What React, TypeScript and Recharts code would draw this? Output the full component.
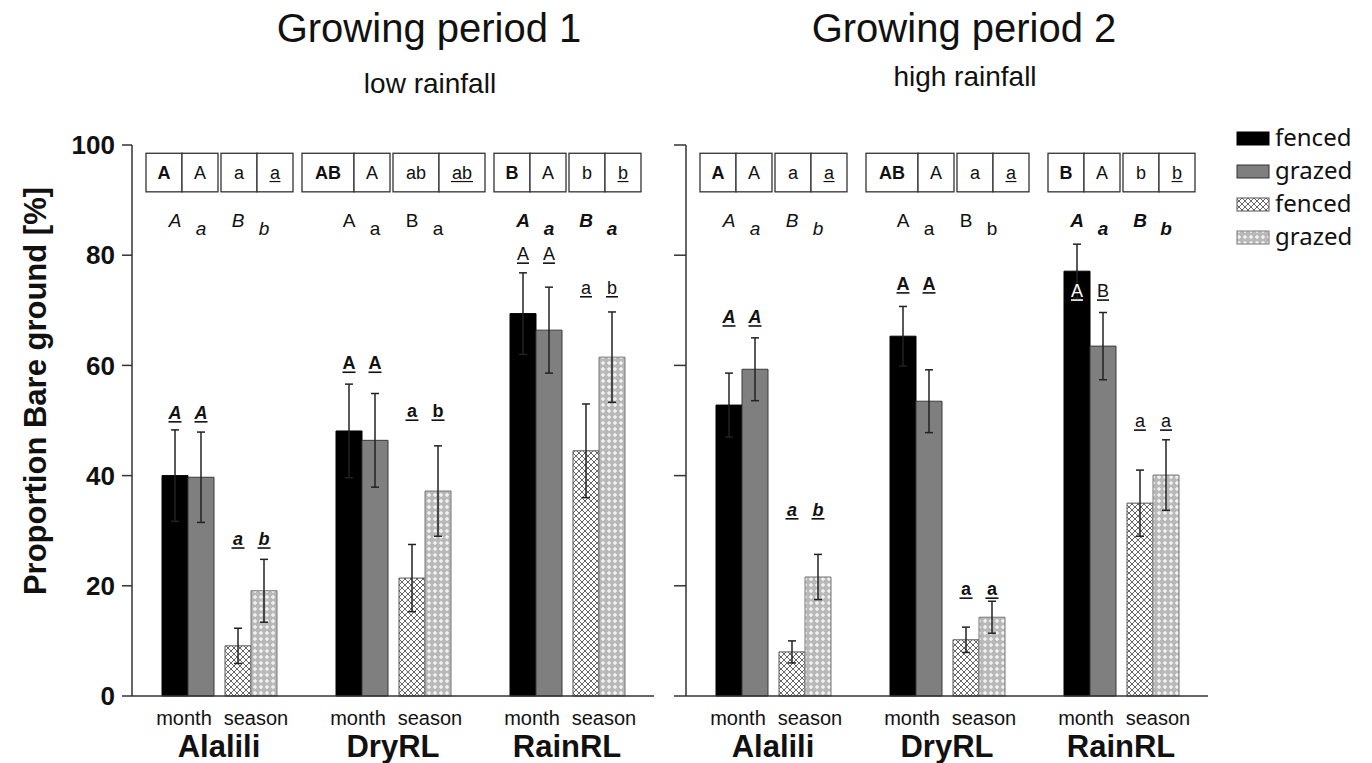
import { BarChart, Bar, XAxis, YAxis, ErrorBar, LabelList } from "recharts";

const sites = ["Alalili", "DryRL", "RainRL"];
const yTicks = [0, 20, 40, 60, 80, 100];

// Growing period 1 (low rainfall): mean % bare ground and SE
const p1MonthFenced = [40.0, 48.1, 69.4];
const p1MonthGrazed = [39.7, 46.4, 66.4];
const p1SeasonFenced = [9.1, 21.4, 44.5];
const p1SeasonGrazed = [19.1, 37.2, 61.5];
const p1MonthFencedSe = [8.3, 8.5, 7.4];
const p1MonthGrazedSe = [8.2, 8.5, 7.8];
const p1SeasonFencedSe = [3.2, 6.1, 8.5];
const p1SeasonGrazedSe = [5.7, 8.2, 8.2];

// Growing period 2 (high rainfall)
const p2MonthFenced = [52.8, 65.3, 77.1];
const p2MonthGrazed = [59.3, 53.5, 63.5];
const p2SeasonFenced = [8.0, 10.2, 35.0];
const p2SeasonGrazed = [21.6, 14.3, 40.1];
const p2MonthFencedSe = [5.8, 5.4, 4.9];
const p2MonthGrazedSe = [5.7, 5.7, 6.1];
const p2SeasonFencedSe = [2.0, 2.3, 6.0];
const p2SeasonGrazedSe = [4.1, 2.9, 6.4];

// letters in the boxes on top (month fenced, month grazed, season fenced, season grazed)
const p1Boxes = [["A", "A", "a", "a"], ["AB", "A", "ab", "ab"], ["B", "A", "b", "b"]];
const p2Boxes = [["A", "A", "a", "a"], ["AB", "A", "a", "a"], ["B", "A", "b", "b"]];
// letter row below the boxes
const p1RowLetters = [["A", "a", "B", "b"], ["A", "a", "B", "a"], ["A", "a", "B", "a"]];
const p2RowLetters = [["A", "a", "B", "b"], ["A", "a", "B", "b"], ["A", "a", "B", "b"]];
// underlined letters over each bar pair
const p1PairLetters = [["A", "A", "a", "b"], ["A", "A", "a", "b"], ["A", "A", "a", "b"]];
const p2PairLetters = [["A", "A", "a", "b"], ["A", "A", "a", "a"], ["A", "B", "a", "a"]];
// where those letters sit on the % axis, [month, season] per site
const p1LetterLevel = [[50.3, 27.4], [59.3, 50.6], [79.1, 73.0]];
const p2LetterLevel = [[67.7, 32.7], [73.7, 18.3], [72.4, 48.8]];

const SANS = '"Liberation Sans", Arial, sans-serif';
const BAR = 26;
const GAP = 11;
const BOX_TOP = 98.5;
const BOX_BOTTOM = 91.5;
const ROW_UPPER = 85.1;
const ROW_LOWER = 83.6;

const rowStyle = [
  { fontStyle: "italic", fontWeight: "normal" },
  { fontStyle: "normal", fontWeight: "normal" },
  { fontStyle: "italic", fontWeight: "bold" },
];
const pairStyle = [
  { fontStyle: "italic", fontWeight: "bold" },
  { fontStyle: "normal", fontWeight: "bold" },
  { fontStyle: "normal", fontWeight: "normal" },
];

const makeRows = (
  mf: number[], mg: number[], sf: number[], sg: number[],
  mfSe: number[], mgSe: number[], sfSe: number[], sgSe: number[]
) =>
  sites.map((site, i) => ({
    site,
    mf: mf[i], mg: mg[i], sf: sf[i], sg: sg[i],
    mfSe: mfSe[i], mgSe: mgSe[i], sfSe: sfSe[i], sgSe: sgSe[i],
  }));

const p1Data = makeRows(p1MonthFenced, p1MonthGrazed, p1SeasonFenced, p1SeasonGrazed,
  p1MonthFencedSe, p1MonthGrazedSe, p1SeasonFencedSe, p1SeasonGrazedSe);
const p2Data = makeRows(p2MonthFenced, p2MonthGrazed, p2SeasonFenced, p2SeasonGrazed,
  p2MonthFencedSe, p2MonthGrazedSe, p2SeasonFencedSe, p2SeasonGrazedSe);

type PanelText = { boxes: string[][]; row: string[][]; pair: string[][]; level: number[][] };

const p1Text: PanelText = { boxes: p1Boxes, row: p1RowLetters, pair: p1PairLetters, level: p1LetterLevel };
const p2Text: PanelText = { boxes: p2Boxes, row: p2RowLetters, pair: p2PairLetters, level: p2LetterLevel };

const cellWidth = (s: string, bold: boolean) => (s.length > 1 ? (bold ? 52 : 46) : 36);

const drawBoxes = (cells: string[], cx: number, top: number, bottom: number) => {
  const ws = cells.map((c, k) => cellWidth(c, k === 0));
  const total = ws.reduce((a, b) => a + b, 0) + 3;
  const xs: number[] = [];
  let left = cx - total / 2;
  ws.forEach((w, k) => {
    xs.push(left);
    left += w + (k === 1 ? 3 : 0);
  });
  const mid = (top + bottom) / 2;
  return (
    <g>
      {cells.map((c, k) => (
        <g key={k}>
          <rect x={xs[k]} y={top} width={ws[k]} height={bottom - top} fill="#fff" stroke="#333" strokeWidth={1.3} />
          <text x={xs[k] + ws[k] / 2} y={mid + 6.5} textAnchor="middle" fontSize={18} fontFamily={SANS}
            fontWeight={k === 0 ? "bold" : "normal"} fill="#111">{c}</text>
          {k === 3 && (
            <line x1={xs[k] + ws[k] / 2 - c.length * 5.5} x2={xs[k] + ws[k] / 2 + c.length * 5.5}
              y1={mid + 9} y2={mid + 9} stroke="#111" strokeWidth={1.2} />
          )}
        </g>
      ))}
    </g>
  );
};

const makeLabel = (t: PanelText, slot: number) => (props: any) => {
  const vb = props.viewBox ?? props;
  const x = Number(vb.x);
  const y = Number(vb.y);
  const w = Number(vb.width);
  const h = Number(vb.height);
  const value = Number(props.value);
  const i = Number(props.index);
  if (!h || !value || Number.isNaN(i) || !t.row[i]) return null;
  const base = y + h;
  const ppu = h / value;
  const py = (v: number) => base - v * ppu;
  const cx = x + w / 2;
  const rowChar = t.row[i][slot];
  const upper = rowChar === rowChar.toUpperCase();
  const pairChar = t.pair[i][slot];
  const lvl = t.level[i][slot < 2 ? 0 : 1];
  const ink = lvl < value ? "#fff" : "#111";
  const ps = pairStyle[i];
  const uw = ps.fontWeight === "bold" ? 13 : 12;
  return (
    <g>
      {slot === 0 && drawBoxes(t.boxes[i], x + 2 * BAR + GAP / 2, py(BOX_TOP), py(BOX_BOTTOM))}
      <text x={cx} y={py(upper ? ROW_UPPER : ROW_LOWER)} textAnchor="middle" fontSize={19}
        fontFamily={SANS} fill="#111" {...rowStyle[i]}>{rowChar}</text>
      <text x={cx} y={py(lvl)} textAnchor="middle" fontSize={18} fontFamily={SANS} fill={ink} {...ps}>
        {pairChar}
      </text>
      <line x1={cx - uw / 2} x2={cx + uw / 2} y1={py(lvl) + 3} y2={py(lvl) + 3} stroke={ink} strokeWidth={1.6} />
    </g>
  );
};

const SiteTick = (props: any) => {
  const { x, y, payload } = props;
  return (
    <g fontFamily={SANS} fill="#111">
      <text x={x - 35} y={y + 29} textAnchor="middle" fontSize={20}>month</text>
      <text x={x + 37} y={y + 29} textAnchor="middle" fontSize={20}>season</text>
      <text x={x} y={y + 61} textAnchor="middle" fontSize={31} fontWeight="bold">{payload.value}</text>
    </g>
  );
};

const axisStroke = { stroke: "#333", strokeWidth: 1.5 };

const Panel = ({ data, text, showLabels }: { data: any[]; text: PanelText; showLabels: boolean }) => (
  <BarChart
    width={showLabels ? 670 : 702}
    height={763}
    data={data}
    barGap={0}
    margin={{ top: 145, right: showLabels ? 16 : 164, bottom: 0, left: 0 }}
  >
    <XAxis
      dataKey="site"
      height={67}
      interval={0}
      tickSize={0}
      tickMargin={0}
      tickLine={false}
      axisLine={axisStroke}
      tick={(p: any) => <SiteTick {...p} />}
    />
    <YAxis
      type="number"
      domain={[0, 100]}
      ticks={yTicks}
      width={showLabels ? 132 : 16}
      tickSize={showLabels ? 10 : 12}
      tickMargin={7}
      axisLine={axisStroke}
      tickLine={axisStroke}
      tick={
        showLabels
          ? { fontSize: 26, fontWeight: "bold", fill: "#111", fontFamily: SANS }
          : () => <g />
      }
    />
    <Bar dataKey="mf" name="fenced" barSize={BAR} fill="#000" stroke="#000" isAnimationActive={false}>
      <ErrorBar dataKey="mfSe" width={4} stroke="#222" strokeWidth={1.5} direction="y" />
      <LabelList dataKey="mf" content={makeLabel(text, 0)} />
    </Bar>
    <Bar dataKey="mg" name="grazed" barSize={BAR} fill="#7f7f7f" stroke="#3a3a3a" strokeWidth={1} isAnimationActive={false}>
      <ErrorBar dataKey="mgSe" width={4} stroke="#222" strokeWidth={1.5} direction="y" />
      <LabelList dataKey="mg" content={makeLabel(text, 1)} />
    </Bar>
    <Bar dataKey="gap" barSize={GAP} legendType="none" fill="none" isAnimationActive={false} />
    <Bar dataKey="sf" name="fenced" barSize={BAR} fill="url(#hatchFenced)" stroke="#555" strokeWidth={1} isAnimationActive={false}>
      <ErrorBar dataKey="sfSe" width={4} stroke="#222" strokeWidth={1.5} direction="y" />
      <LabelList dataKey="sf" content={makeLabel(text, 2)} />
    </Bar>
    <Bar dataKey="sg" name="grazed" barSize={BAR} fill="url(#hatchGrazed)" stroke="#777" strokeWidth={1} isAnimationActive={false}>
      <ErrorBar dataKey="sgSe" width={4} stroke="#222" strokeWidth={1.5} direction="y" />
      <LabelList dataKey="sg" content={makeLabel(text, 3)} />
    </Bar>
  </BarChart>
);

const legendItems = [
  { label: "fenced", fill: "#000", stroke: "#000" },
  { label: "grazed", fill: "#7f7f7f", stroke: "#333" },
  { label: "fenced", fill: "url(#hatchFenced)", stroke: "#555" },
  { label: "grazed", fill: "url(#hatchGrazed)", stroke: "#777" },
];

const App = () => (
  <div style={{ position: "absolute", left: 0, top: 0, width: 1372, height: 763, background: "#fff" }}>
    <svg width={1372} height={763} style={{ position: "absolute", left: 0, top: 0, pointerEvents: "none" }}>
      <defs>
        <pattern id="hatchFenced" width={6} height={6} patternUnits="userSpaceOnUse">
          <rect width={6} height={6} fill="#fff" />
          <path d="M0,0 L6,6 M6,0 L0,6" stroke="#555" strokeWidth={0.9} />
        </pattern>
        <pattern id="hatchGrazed" width={6} height={6} patternUnits="userSpaceOnUse">
          <rect width={6} height={6} fill="#b8b8b8" />
          <path d="M3,0.8 L5.2,3 L3,5.2 L0.8,3 Z" fill="#f2f2f2" />
        </pattern>
      </defs>
      <g fontFamily={SANS} fill="#111" textAnchor="middle">
        <text x={429} y={42} fontSize={40}>Growing period 1</text>
        <text x={430} y={93} fontSize={28}>low rainfall</text>
        <text x={964} y={42} fontSize={40}>Growing period 2</text>
        <text x={965} y={86} fontSize={28}>high rainfall</text>
        <text x={46} y={391} fontSize={31} fontWeight="bold" transform="rotate(-90 46 391)">
          Proportion Bare ground [%]
        </text>
      </g>
      <g fontFamily='"Noto Sans", sans-serif' fontSize={24} fill="#111">
        {legendItems.map((it, k) => {
          const base = 146 + k * 33;
          return (
            <g key={k}>
              <rect x={1237} y={base - 14} width={32} height={13} fill={it.fill} stroke={it.stroke} strokeWidth={1} />
              <text x={1275} y={base}>{it.label}</text>
            </g>
          );
        })}
      </g>
    </svg>
    <div style={{ position: "absolute", left: 0, top: 0 }}>
      <Panel data={p1Data} text={p1Text} showLabels={true} />
    </div>
    <div style={{ position: "absolute", left: 670, top: 0 }}>
      <Panel data={p2Data} text={p2Text} showLabels={false} />
    </div>
  </div>
);

export default App;
